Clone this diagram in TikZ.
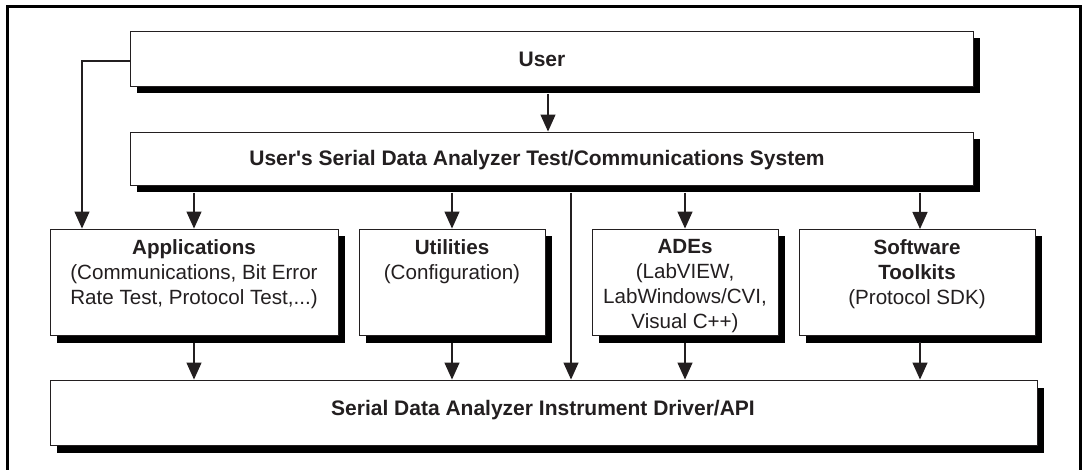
\documentclass[tikz,border=0pt]{standalone}
\usepackage{fontspec}
\setmainfont{Liberation Sans}
\usetikzlibrary{arrows.meta,positioning,calc}
\definecolor{ink}{HTML}{231F20}
\tikzset{
  box/.style={draw=ink,line width=0.9pt,fill=white,inner sep=0pt,rectangle},
  shadowbox/.style={fill=black,draw=none,inner sep=0pt,rectangle},
  txt/.style={align=center,font=\fontsize{20.6}{25}\selectfont,text=ink,inner sep=0pt},
  conn/.style={draw=ink,line width=1.3pt},
  arr/.style={conn,-{Triangle[length=17pt,width=15pt]}}
}
\newcommand{\shbox}[5]{% name, cx, cy, w, h
  \node[shadowbox,minimum width=#4pt,minimum height=#5pt] (#1sh) at (#2+7,#3+7.5) {};
  \node[box,minimum width=#4pt,minimum height=#5pt] (#1) at (#2,#3) {};
}
\begin{document}
\begin{tikzpicture}[x=1pt,y=-1pt]
\useasboundingbox (0,0) rectangle (1086,470);
% frame
\draw[line width=3pt,black] (7,472) -- (7,7) -- (1080,7) -- (1080,472);
% boxes
\shbox{user}{551.5}{58.5}{843}{55}
\shbox{sys}{551.5}{158.5}{843}{53}
\shbox{apps}{194}{282}{288}{106}
\shbox{util}{452}{282}{186}{106}
\shbox{ades}{685}{282}{186}{106}
\shbox{sw}{917}{282}{236}{106}
\shbox{api}{543.5}{412.5}{987}{65}
% texts
\node[txt,font=\fontsize{21}{25}\selectfont\bfseries] (tuser) at (542,59) {User};
\node[txt,font=\fontsize{21}{25}\selectfont\bfseries] (tsys) at (537,160) {User\textquotesingle s Serial Data Analyzer Test/Communications System};
\node[txt,font=\fontsize{21}{25}\selectfont\bfseries] (tapi) at (543,410) {Serial Data Analyzer Instrument Driver/API};
\node[txt,anchor=north] (tapps) at (194,239) {\textbf{Applications}\\(Communications, Bit Error\\Rate Test, Protocol Test,...)};
\node[txt,anchor=north] (tutil) at (452,239) {\textbf{Utilities}\\(Configuration)};
\node[txt,anchor=north] (tades) at (685,239) {\textbf{ADEs}\\(LabVIEW,\\LabWindows/CVI,\\Visual C++)};
\node[txt,anchor=north] (tsw) at (917,239) {\textbf{Software}\\\textbf{Toolkits}\\(Protocol SDK)};
% connectors
\coordinate (lft) at (82,61);
\coordinate (ux) at (548,94);
\coordinate (swx) at (920,229);
\coordinate (swb) at (920,342);
\coordinate (mid) at (571,193);
\draw[arr] (user.west |- lft) -- (lft) -- (lft |- apps.north);
\draw[arr] (ux) -- (ux |- sys.north);
\draw[arr] (syssh.south -| apps.north) -- (apps.north);
\draw[arr] (syssh.south -| util.north) -- (util.north);
\draw[arr] (syssh.south -| ades.north) -- (ades.north);
\draw[arr] (syssh.south -| swx) -- (swx);
\draw[arr] (mid) -- (mid |- api.north);
\draw[arr] (appssh.south -| apps.north) -- (api.north -| apps.north);
\draw[arr] (utilsh.south -| util.north) -- (api.north -| util.north);
\draw[arr] (adessh.south -| ades.north) -- (api.north -| ades.north);
\draw[arr] (swb) -- (api.north -| swb);
\end{tikzpicture}
\end{document}
